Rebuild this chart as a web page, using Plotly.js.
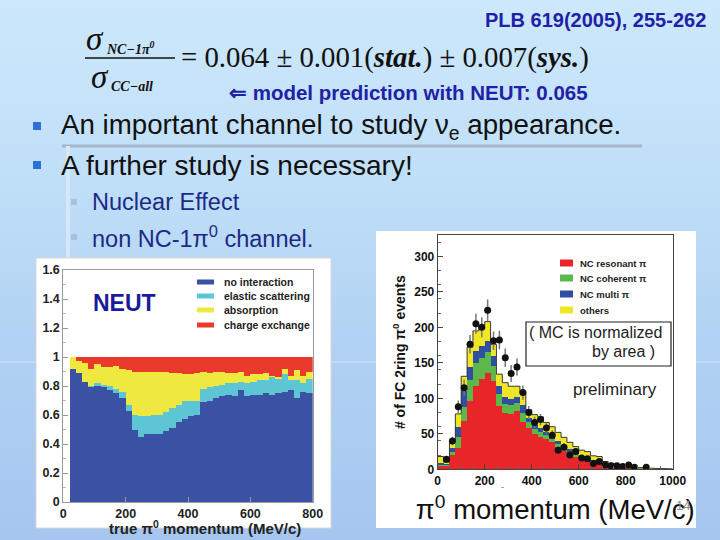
<!DOCTYPE html>
<html>
<head>
<meta charset="utf-8">
<script src="https://cdn.plot.ly/plotly-3.0.1.min.js"></script>
<style>
  html, body { margin: 0; padding: 0; }
  #chart { width: 720px; height: 540px;
    background: linear-gradient(to bottom, #cde8fb 0%, #bfdef8 35%, #b1d1f3 65%, #a6c6ef 100%); }
</style>
</head>
<body>
<div id="chart"></div>
<script>
// ---------------- Left chart (NEUT pi0 interaction fractions) ----------------
const neutMomentum = [30,50,70,90,110,130,150,170,190,210,230,250,270,290,310,330,350,370,390,410,
                      430,450,470,490,510,530,550,570,590,610,630,650,670,690,710,730,750,770,790];
const noInteraction = [0.92,0.89,0.83,0.79,0.80,0.79,0.77,0.75,0.72,0.63,0.50,0.45,0.47,0.47,0.47,0.49,0.51,0.55,0.57,0.59,
                       0.60,0.69,0.70,0.72,0.73,0.74,0.73,0.77,0.73,0.74,0.74,0.75,0.74,0.75,0.76,0.77,0.72,0.76,0.75];
const elasticScattering = [0.00,0.00,0.00,0.01,0.02,0.02,0.03,0.03,0.04,0.04,0.10,0.14,0.12,0.13,0.13,0.13,0.14,0.12,0.13,0.11,
                           0.10,0.09,0.09,0.08,0.08,0.08,0.09,0.06,0.09,0.09,0.10,0.09,0.12,0.10,0.12,0.07,0.12,0.06,0.10];
const absorption = [0.08,0.08,0.13,0.12,0.13,0.12,0.13,0.16,0.16,0.24,0.30,0.31,0.31,0.30,0.30,0.28,0.24,0.22,0.18,0.18,
                    0.19,0.12,0.10,0.10,0.09,0.07,0.07,0.07,0.05,0.05,0.04,0.05,0.01,0.01,0.04,0.03,0.07,0.05,0.05];
const chargeExchange = [0.00,0.03,0.04,0.08,0.05,0.07,0.07,0.06,0.08,0.09,0.10,0.10,0.10,0.10,0.10,0.10,0.11,0.11,0.12,0.12,
                        0.11,0.10,0.11,0.10,0.10,0.11,0.11,0.10,0.13,0.12,0.12,0.11,0.13,0.14,0.08,0.13,0.09,0.13,0.10];
const leftNames = ["no interaction", "elastic scattering", "absorption", "charge exchange"];
const leftXTicks = [0, 200, 400, 600, 800];
const leftYTicks = [0, 0.2, 0.4, 0.6, 0.8, 1, 1.2, 1.4, 1.6];

// ---------------- Right chart (FC 2ring pi0 momentum) ----------------
const mcMomentum = [12.5,37.5,62.5,87.5,112.5,137.5,162.5,187.5,212.5,237.5,262.5,287.5,312.5,337.5,362.5,387.5,412.5,437.5,462.5,487.5,
                    512.5,537.5,562.5,587.5,612.5,637.5,662.5,687.5,712.5,737.5,762.5,787.5,812.5,837.5,862.5,887.5,912.5,937.5,962.5,987.5];
const ncResonant = [5,4,20,30,68,96,118,127,135,125,89,80,78,82,66,58,50,45,42,38,
                    31,26,22,18,15,13,10,9,4,3,2,2,1.5,1,1,0.8,0.6,0.5,0.4,0.3];
const ncCoherent = [1,2,5,16,20,30,32,30,30,21,17,12,12,12,14,8,7,7,6,5,
                    5,4,3,3,2,2,1.5,1.5,1,1,0.5,0.5,0.5,0.3,0.3,0.2,0.1,0.1,0.1,0.1];
const ncMultiPi = [3,1,5,13,22,18,16,17,16,14,12,10,9,8,10,6,6,6,5,4,
                   4,4,3,2,2,2,1.5,1.5,1.5,1,1,0.5,0.5,0.5,0.4,0.3,0.3,0.2,0.2,0.1];
const others = [9,3,9,19,21,28,29,28,27,16,16,20,18,15,18,12,14,16,13,13,
                12,11,10,9,8,8,6,6,4.5,3.5,2.5,2,1.5,1.2,0.8,0.7,0.5,0.4,0.3,0.3];
const rightNames = ["NC resonant π", "NC coherent π", "NC multi π", "others"];
const dataMomentum = [37.5,62.5,87.5,112.5,137.5,162.5,187.5,212.5,237.5,262.5,287.5,312.5,337.5,362.5,387.5,412.5,437.5,462.5,487.5,
                      512.5,537.5,562.5,587.5,612.5,637.5,662.5,687.5,712.5,737.5,762.5,787.5,812.5,837.5,887.5];
const dataEvents = [14,40,88,115,176,205,200,224,181,182,157,135,144,108,80,66,70,58,48,
                    27,31,20,25,16,15,8,11,6,5,5,4,6,3,3];
const dataErrors = [4,6,9,11,13,14,14,15,13,13,13,12,12,10,9,8,8,8,7,
                    5,6,4.5,5,4,4,3,3,2.5,2,2,2,2.5,2,2];
const rightXTicks = [0, 200, 400, 600, 800, 1000];
const rightYTicks = [0, 50, 100, 150, 200, 250, 300];

// ---------------- helpers ----------------
const W = 720, H = 540;
const PX = x => x / W;
const PY = y => 1 - y / H;
const SANS = "Liberation Sans, Arial, sans-serif";
const SERIF = "Liberation Serif, Times New Roman, serif";

const leftColors = ["#3b51a3", "#5ec5d5", "#efe83e", "#e93a2c"];
const rightColors = ["#e8262a", "#5cb848", "#2e4fa3", "#efe626"];

const traces = [];
[noInteraction, elasticScattering, absorption, chargeExchange].forEach((vals, i) => {
  traces.push({type: "bar", name: leftNames[i], x: neutMomentum, y: vals, width: 20,
    xaxis: "x", yaxis: "y", marker: {color: leftColors[i], line: {width: 0}}, showlegend: false,
    hoverinfo: "skip"});
});
[ncResonant, ncCoherent, ncMultiPi, others].forEach((vals, i) => {
  traces.push({type: "bar", name: rightNames[i], x: mcMomentum, y: vals, width: 25,
    xaxis: "x2", yaxis: "y2", marker: {color: rightColors[i], line: {width: 0}}, showlegend: false,
    hoverinfo: "skip"});
});
// outline of the MC histogram (sum of the stacked components)
const mcTotal = mcMomentum.map((_, i) => ncResonant[i] + ncCoherent[i] + ncMultiPi[i] + others[i]);
const mcEdges = mcMomentum.map(c => c - 12.5).concat([mcMomentum[mcMomentum.length - 1] + 12.5]);
traces.push({type: "scatter", mode: "lines", x: mcEdges, y: mcTotal.concat([mcTotal[mcTotal.length - 1]]),
  line: {shape: "hv", color: "#3a3a3a", width: 1}, xaxis: "x2", yaxis: "y2", showlegend: false, hoverinfo: "skip"});
traces.push({type: "scatter", mode: "markers", name: "data", x: dataMomentum, y: dataEvents,
  error_y: {type: "data", array: dataErrors, visible: true, color: "#777", thickness: 1.5, width: 0},
  marker: {color: "#111", size: 7}, xaxis: "x2", yaxis: "y2", showlegend: false, hoverinfo: "skip"});

// ---------------- shapes ----------------
const shapes = [
  // slide decorations
  {type: "line", xref: "paper", yref: "paper", x0: PX(62), x1: PX(642), y0: PY(146), y1: PY(146),
   line: {color: "#a3b6ca", width: 3}, layer: "below"},
  {type: "line", xref: "paper", yref: "paper", x0: PX(68), x1: PX(68), y0: PY(146), y1: PY(360),
   line: {color: "#d6e8f7", width: 4}, layer: "below"},
  {type: "line", xref: "paper", yref: "paper", x0: PX(0), x1: PX(720), y0: PY(362), y1: PY(362),
   line: {color: "rgba(255,255,255,0.22)", width: 2}, layer: "below"},
  // white panels
  {type: "rect", xref: "paper", yref: "paper", x0: PX(36), x1: PX(331), y0: PY(528), y1: PY(258),
   fillcolor: "#ffffff", line: {color: "#d8d8d8", width: 1}, layer: "below"},
  {type: "rect", xref: "paper", yref: "paper", x0: PX(376), x1: PX(696), y0: PY(528), y1: PY(231),
   fillcolor: "#ffffff", line: {width: 0}, layer: "below"},
  // bullets
  {type: "rect", xref: "paper", yref: "paper", x0: PX(33), x1: PX(41), y0: PY(130), y1: PY(122),
   fillcolor: "#2f6fd8", line: {width: 0}},
  {type: "rect", xref: "paper", yref: "paper", x0: PX(33), x1: PX(41), y0: PY(169), y1: PY(161),
   fillcolor: "#2f6fd8", line: {width: 0}},
  {type: "rect", xref: "paper", yref: "paper", x0: PX(71), x1: PX(77), y0: PY(205), y1: PY(199),
   fillcolor: "#a9bfe3", line: {width: 0}},
  {type: "rect", xref: "paper", yref: "paper", x0: PX(71), x1: PX(77), y0: PY(240), y1: PY(234),
   fillcolor: "#a9bfe3", line: {width: 0}},
  // fraction bar
  {type: "line", xref: "paper", yref: "paper", x0: PX(85), x1: PX(175), y0: PY(58), y1: PY(58),
   line: {color: "#111", width: 1.6}},
  // MC normalisation box
  {type: "rect", xref: "paper", yref: "paper", x0: PX(526), x1: PX(671), y0: PY(366), y1: PY(322),
   line: {color: "#222", width: 1.2}, fillcolor: "rgba(0,0,0,0)"}
];
// legend swatches
const leftLegendY = [282, 296, 310, 325];
leftLegendY.forEach((y, i) => shapes.push({type: "rect", xref: "paper", yref: "paper",
  x0: PX(197), x1: PX(214), y0: PY(y + 2.5), y1: PY(y - 2.5), fillcolor: leftColors[i], line: {width: 0}}));
const rightLegendY = [263, 278, 294, 310];
rightLegendY.forEach((y, i) => shapes.push({type: "rect", xref: "paper", yref: "paper",
  x0: PX(560), x1: PX(573), y0: PY(y + 3.5), y1: PY(y - 3.5), fillcolor: rightColors[i], line: {width: 0}}));

// ---------------- annotations ----------------
const A = (x, y, text, font, xanchor = "left", yanchor = "middle") =>
  ({xref: "paper", yref: "paper", x: PX(x), y: PY(y), text, font, xanchor, yanchor, showarrow: false});
const annotations = [
  A(708, 20, "PLB 619(2005), 255-262", {family: SANS, size: 20, color: "#2121a6", weight: "bold"}, "right"),
  A(84, 39, "<i>σ</i>", {family: SERIF, size: 33, color: "#111"}),
  A(104, 48, "<b><i>NC−1π<sup>0</sup></i></b>", {family: SERIF, size: 14, color: "#111"}),
  A(89, 77, "<i>σ</i>", {family: SERIF, size: 33, color: "#111"}),
  A(109, 87, "<b><i>CC−all</i></b>", {family: SERIF, size: 14, color: "#111"}),
  A(179, 58, "= 0.064 ± 0.001(<b><i>stat.</i></b>) ± 0.007(<b><i>sys.</i></b>)", {family: SERIF, size: 28.8, color: "#111"}),
  A(227, 92, "⇐ model prediction with NEUT: 0.065", {family: SANS, size: 20.5, color: "#2121a6", weight: "bold"}),
  A(59, 126, "An important channel to study ν<sub>e</sub> appearance.", {family: SANS, size: 27.7, color: "#111"}),
  A(59, 165, "A further study is necessary!", {family: SANS, size: 28, color: "#111"}),
  A(90, 202, "Nuclear Effect", {family: SANS, size: 23.5, color: "#1c2a86"}),
  A(90, 237, "non NC-1π<sup>0</sup> channel.", {family: SANS, size: 23.5, color: "#1c2a86"}),
  A(91, 303, "NEUT", {family: SANS, size: 23, color: "#1a1a9c", weight: "bold"}),
  A(205, 527, "true π<sup>0</sup> momentum (MeV/c)", {family: SANS, size: 15, color: "#222", weight: "bold"}, "center"),
  A(571, 389, "preliminary", {family: SANS, size: 17, color: "#222"}),
  A(664, 332, "( MC is normalized", {family: SANS, size: 16, color: "#222"}, "right"),
  A(657, 351, "by area )", {family: SANS, size: 16, color: "#222"}, "right"),
  A(683, 505, "14", {family: SANS, size: 13, color: "#8a8a8a"}, "center"),
  A(502, 487, "-", {family: SANS, size: 9, color: "#666"}, "center")
];
leftNames.forEach((t, i) => annotations.push(A(222, leftLegendY[i], t, {family: SANS, size: 10.5, color: "#222", weight: "bold"})));
rightNames.forEach((t, i) => annotations.push(A(578, rightLegendY[i], t, {family: SANS, size: 9.5, color: "#222", weight: "bold"})));

const leftTickFont = {family: SANS, size: 12.5, color: "#222", weight: "bold"};
const rightTickFont = {family: SANS, size: 12, color: "#111", weight: "bold"};
const layout = {
  width: W, height: H, autosize: false,
  margin: {l: 0, r: 0, t: 0, b: 0, pad: 0},
  paper_bgcolor: "rgba(0,0,0,0)", plot_bgcolor: "#ffffff",
  barmode: "stack", bargap: 0, showlegend: false,
  xaxis: {domain: [PX(63.3), PX(312.7)], range: [0, 800], anchor: "y", tickvals: leftXTicks,
    ticks: "inside", ticklen: 5, tickcolor: "#999", showgrid: false, zeroline: false,
    showline: true, mirror: true, linecolor: "#9a9a9a", linewidth: 1, tickfont: leftTickFont},
  yaxis: {domain: [PY(502), PY(270)], range: [0, 1.6], anchor: "x", tickvals: leftYTicks,
    ticks: "inside", ticklen: 5, tickcolor: "#999", showgrid: false, zeroline: false,
    minor: {ticks: "inside", ticklen: 3, tickcolor: "#bbb", nticks: 5},
    showline: true, mirror: true, linecolor: "#9a9a9a", linewidth: 1, tickfont: leftTickFont},
  xaxis2: {domain: [PX(437.7), PX(672.7)], range: [0, 1000], anchor: "y2", tickvals: rightXTicks,
    ticks: "inside", ticklen: 5, tickcolor: "#444", showgrid: false, zeroline: false,
    minor: {ticks: "inside", ticklen: 3, tickcolor: "#666", nticks: 5},
    showline: true, mirror: true, linecolor: "#444", linewidth: 1, tickfont: rightTickFont,
    title: {text: "π<sup>0</sup> momentum (MeV/c)", font: {family: SANS, size: 27.5, color: "#111"}, standoff: 13}},
  yaxis2: {domain: [PY(469.3), PY(235)], range: [0, 330], anchor: "x2", tickvals: rightYTicks,
    ticks: "inside", ticklen: 5, tickcolor: "#444", showgrid: false, zeroline: false,
    minor: {ticks: "inside", ticklen: 3, tickcolor: "#666", nticks: 5},
    showline: true, mirror: true, linecolor: "#444", linewidth: 1, tickfont: rightTickFont,
    title: {text: "# of FC 2ring π<sup>0</sup> events", font: {family: SANS, size: 14, color: "#111", weight: "bold"}, standoff: 5}},
  shapes, annotations
};
Plotly.newPlot("chart", traces, layout, {staticPlot: true, displayModeBar: false});
</script>
</body>
</html>
